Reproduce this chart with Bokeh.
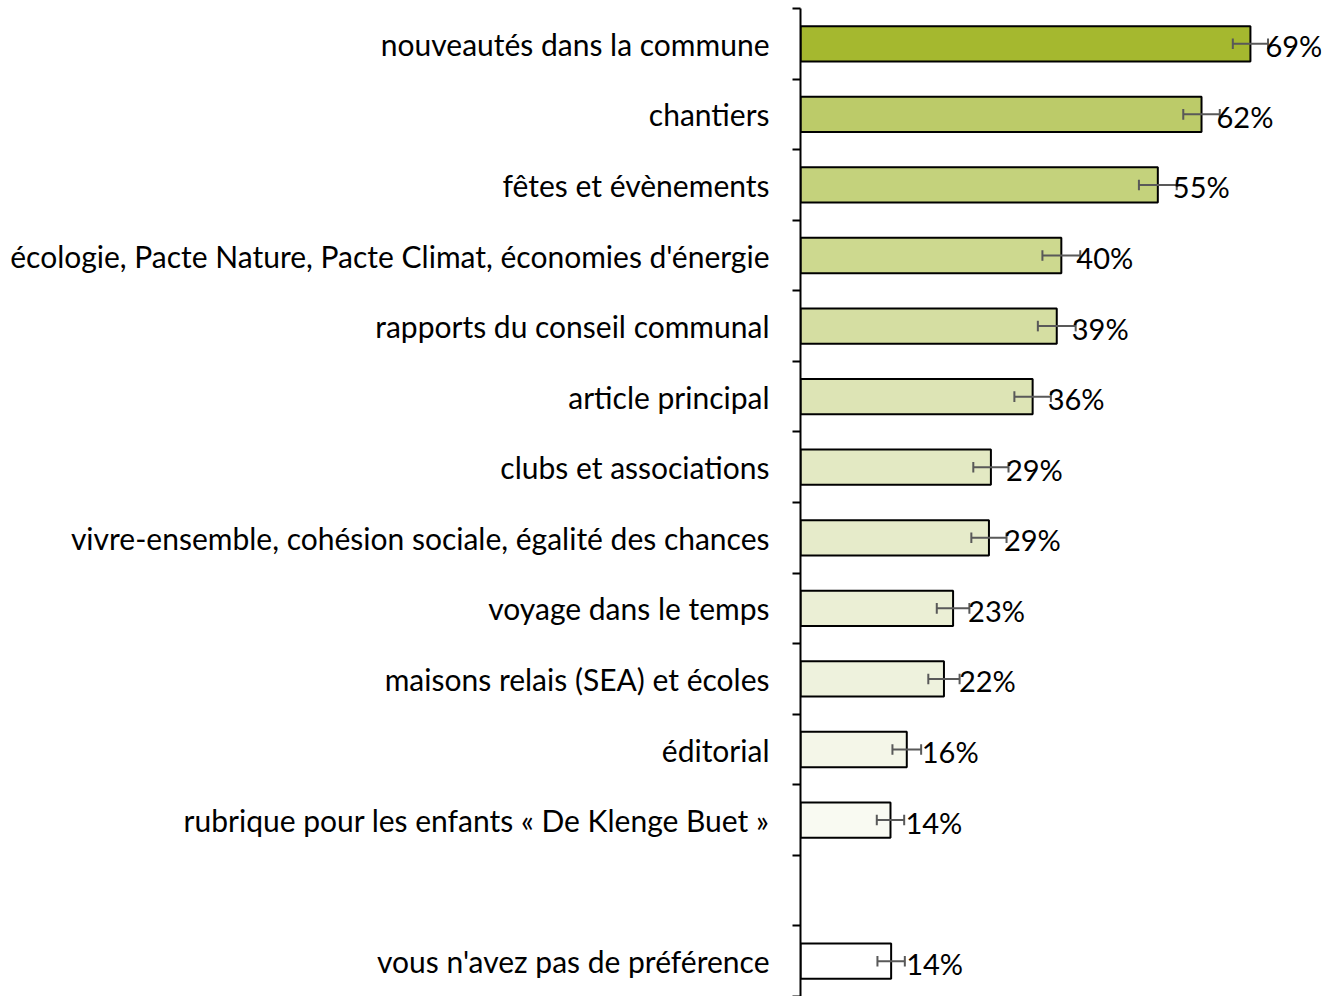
from bokeh.plotting import figure
from bokeh.models import Range1d, FixedTicker, ColumnDataSource
from bokeh.core.properties import value
from bokeh.embed import file_html
from bokeh.resources import INLINE

categories = [
    "nouveautés dans la commune",
    "chantiers",
    "fêtes et évènements",
    "écologie, Pacte Nature, Pacte Climat, économies d'énergie",
    "rapports du conseil communal",
    "article principal",
    "clubs et associations",
    "vivre-ensemble, cohésion sociale, égalité des chances",
    "voyage dans le temps",
    "maisons relais (SEA) et écoles",
    "éditorial",
    "rubrique pour les enfants « De Klenge Buet »",
    "",
    "vous n'avez pas de préférence",
]
values = [69.0, 61.5, 54.8, 40.0, 39.3, 35.6, 29.2, 28.9, 23.4, 22.0, 16.3, 13.8, None, 13.9]
errors = [2.7, 2.8, 2.9, 2.9, 2.9, 2.8, 2.7, 2.7, 2.5, 2.4, 2.2, 2.1, None, 2.1]
colors = ["#A5B82F", "#BCCB69", "#C4D27C", "#CDD98F", "#D5DEA2", "#DDE4B5",
          "#E3E9C3", "#E6EBCA", "#EBEFD5", "#EEF2DD", "#F4F6E8", "#F9FAF2", None, "#FFFFFF"]

FONT = "Lato"
n = len(categories)
centers = [n - i - 0.5 for i in range(n)]

rows = [i for i in range(n) if values[i] is not None]
src = ColumnDataSource(dict(
    y=[centers[i] for i in rows],
    v=[values[i] for i in rows],
    lo=[values[i] - errors[i] for i in rows],
    hi=[values[i] + errors[i] for i in rows],
    ylo=[centers[i] - 0.075 for i in rows],
    yhi=[centers[i] + 0.075 for i in rows],
    color=[colors[i] for i in rows],
    label=[f"{round(values[i] + 0.001)}%" for i in rows],
))

p = figure(width=1327, height=996, output_backend="svg", toolbar_location=None,
           x_range=Range1d(0, 79.9), y_range=Range1d(0, n),
           x_axis_location=None, min_border_left=800, min_border_right=6,
           min_border_top=8, min_border_bottom=0)
p.outline_line_color = None
p.xgrid.visible = False
p.ygrid.visible = False

p.hbar(y="y", left=0, right="v", height=0.5, source=src, fill_color="color",
       line_color="black", line_width=2)
p.segment(x0="lo", x1="hi", y0="y", y1="y", source=src, line_color="#595959", line_width=2)
p.segment(x0="lo", x1="lo", y0="ylo", y1="yhi", source=src, line_color="#595959", line_width=2)
p.segment(x0="hi", x1="hi", y0="ylo", y1="yhi", source=src, line_color="#595959", line_width=2)
p.text(x="v", y="y", text="label", source=src, x_offset=15, y_offset=2,
       text_baseline="middle", text_align="left", text_font=value(FONT),
       text_font_size="29px", text_color="black")

ax = p.yaxis[0]
ax.ticker = FixedTicker(ticks=centers, minor_ticks=list(range(n + 1)))
ax.major_label_overrides = {c: categories[i] for i, c in enumerate(centers)}
ax.major_tick_in = 0
ax.major_tick_out = 0
ax.minor_tick_in = 0
ax.minor_tick_out = 8
ax.minor_tick_line_width = 2
ax.minor_tick_line_color = "black"
ax.axis_line_color = "black"
ax.axis_line_width = 2
ax.major_label_standoff = 23
ax.major_label_text_font = FONT
ax.major_label_text_font_size = "30px"
ax.major_label_text_color = "black"

open("out.html", "w").write(file_html(p, INLINE))
